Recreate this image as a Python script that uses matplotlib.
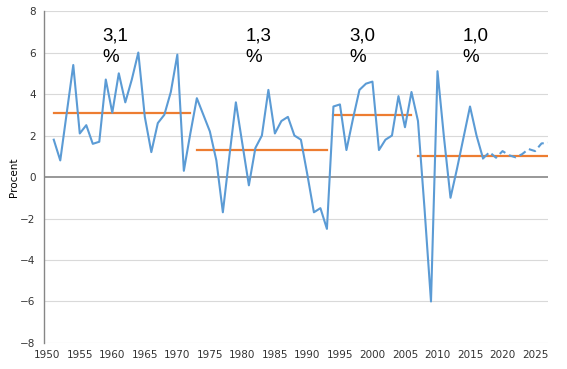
import matplotlib

matplotlib.use("Agg")
import matplotlib.pyplot as plt

# GDP growth per year (Procent)
years = list(range(1951, 2018))
growth = [
    1.8, 0.8, 3.1, 5.4, 2.1, 2.5, 1.6, 1.7, 4.7, 3.1,
    5.0, 3.6, 4.7, 6.0, 2.9, 1.2, 2.6, 3.0, 4.1, 5.9,
    0.3, 2.1, 3.8, 3.0, 2.2, 0.8, -1.7, 1.0, 3.6, 1.6,
    -0.4, 1.4, 2.0, 4.2, 2.1, 2.7, 2.9, 2.0, 1.8, 0.1,
    -1.7, -1.5, -2.5, 3.4, 3.5, 1.3, 2.8, 4.2, 4.5, 4.6,
    1.3, 1.8, 2.0, 3.9, 2.4, 4.1, 2.7, -1.5, -6.0, 5.1,
    1.9, -1.0, 0.4, 1.9, 3.4, 2.0, 0.9,
]

# forecast part (dashed)
fc_years = list(range(2017, 2028))
fc_growth = [0.9, 1.2, 0.93, 1.25, 1.05, 0.95, 1.1, 1.35, 1.25, 1.62, 1.65]

# period averages
period_start = [1951, 1973, 1994, 2007]
period_end = [1972, 1993, 2006, 2027]
period_mean = [3.1, 1.3, 3.0, 1.0]
period_label = ["3,1\n%", "1,3\n%", "3,0\n%", "1,0\n%"]
label_x = [1958.5, 1980.5, 1996.5, 2013.8]

blue = "#5B9BD5"
orange = "#ED7D31"

fig = plt.figure(figsize=(5.67, 3.69), dpi=100)
ax = fig.add_axes([0.0776, 0.0705, 0.889, 0.8995])

for y in range(-8, 9, 2):
    if y != 0:
        ax.axhline(y, color="#D9D9D9", lw=0.8, zorder=0)
ax.axhline(0, color="#868686", lw=1.2, zorder=1)

for s, e, m in zip(period_start, period_end, period_mean):
    ax.plot([s, e], [m, m], color=orange, lw=1.6, zorder=2)

ax.plot(years, growth, color=blue, lw=1.5, zorder=3)
ax.plot(fc_years, fc_growth, color=blue, lw=1.5, ls=(0, (3.5, 2)), zorder=3)

for x, txt in zip(label_x, period_label):
    ax.text(x, 7.2, txt, ha="left", va="top", fontsize=13.5,
            family="Liberation Sans", linespacing=1.3)

ax.set_xlim(1949.5, 2027)
ax.set_ylim(-8, 8)
ax.set_yticks(range(-8, 9, 2))
ax.set_xticks(range(1950, 2026, 5))
ax.tick_params(axis="both", length=0, labelsize=7.5, colors="#333333")
ax.tick_params(axis="y", pad=6)
ax.tick_params(axis="x", pad=5)
ax.set_ylabel("Procent", fontsize=7.5, labelpad=1)

for side in ["top", "right", "bottom"]:
    ax.spines[side].set_visible(False)
ax.spines["left"].set_color("#868686")
ax.spines["left"].set_linewidth(1.0)

fig.savefig("out.png", dpi=100)
